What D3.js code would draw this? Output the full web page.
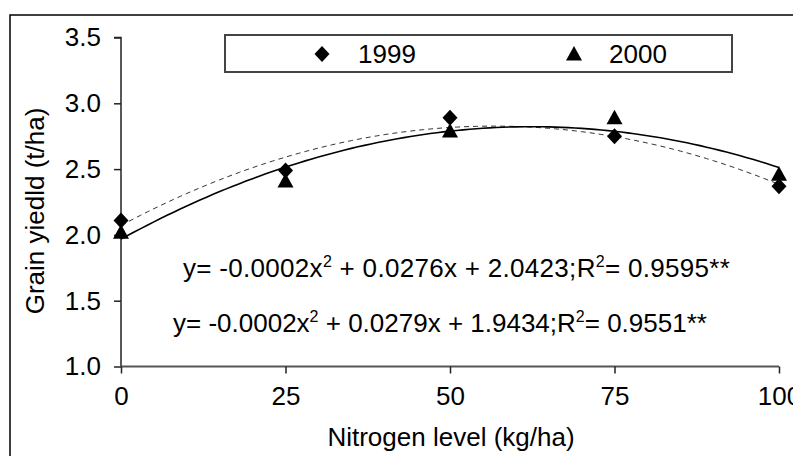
<!DOCTYPE html>
<html><head><meta charset="utf-8">
<script src="https://cdn.jsdelivr.net/npm/d3@7"></script>
<style>body{margin:0;background:#fff}svg{display:block}text{font-family:"Liberation Sans",Arial,sans-serif;fill:#000}</style>
</head><body>
<script>
const nitrogen = [0, 25, 50, 75, 100];
const yield1999 = [2.11, 2.49, 2.89, 2.75, 2.37];
const yield2000 = [2.02, 2.41, 2.79, 2.89, 2.46];
const seriesNames = ["1999", "2000"];
const yTicks = [1.0, 1.5, 2.0, 2.5, 3.0, 3.5];
const xTicks = [0, 25, 50, 75, 100];
const equations = [
  {pre:"y= -0.0002x", a:" + 0.0276x + 2.0423;R", b:"= 0.9595**"},
  {pre:"y= -0.0002x", a:" + 0.0279x + 1.9434;R", b:"= 0.9551**"}
];

const W = 793, H = 456, FS = 26;
const svg = d3.select("body").append("svg").attr("width", W).attr("height", H);
svg.append("rect").attr("x",10).attr("y",15).attr("width",800).attr("height",460)
  .attr("fill","none").attr("stroke","#000").attr("stroke-width",1.5);

const x = d3.scaleLinear().domain([0,100]).range([121,779]);
const y = d3.scaleLinear().domain([1,3.5]).range([366.5,37.5]);

// quadratic least-squares fit
function quadFit(xs, ys){
  let S=[0,0,0,0,0], T=[0,0,0];
  xs.forEach((xv,i)=>{ for(let k=0;k<5;k++) S[k]+=Math.pow(xv,k); for(let k=0;k<3;k++) T[k]+=Math.pow(xv,k)*ys[i]; });
  const A=[[S[0],S[1],S[2],T[0]],[S[1],S[2],S[3],T[1]],[S[2],S[3],S[4],T[2]]];
  for(let i=0;i<3;i++){ for(let j=i+1;j<3;j++){ const f=A[j][i]/A[i][i]; for(let k=i;k<4;k++) A[j][k]-=f*A[i][k]; } }
  const c=[0,0,0];
  for(let i=2;i>=0;i--){ let s=A[i][3]; for(let k=i+1;k<3;k++) s-=A[i][k]*c[k]; c[i]=s/A[i][i]; }
  return xv => c[0]+c[1]*xv+c[2]*xv*xv;
}
const xs = d3.range(0,100.01,1);
const f1999 = quadFit(nitrogen, yield1999), f2000 = quadFit(nitrogen, yield2000);
const line = d3.line().x(d=>x(d[0])).y(d=>y(d[1]));

// axes
const yAxis = svg.append("g").attr("transform",`translate(${x(0)},0)`)
  .call(d3.axisLeft(y).tickValues(yTicks).tickFormat(d3.format(".1f")).tickSize(7).tickPadding(13));
const xAxis = svg.append("g").attr("transform",`translate(0,${y(1)})`)
  .call(d3.axisBottom(x).tickValues(xTicks).tickSize(7).tickPadding(13));
[yAxis,xAxis].forEach(g=>{
  g.select(".domain").attr("stroke","#222").attr("stroke-width",1.5);
  g.selectAll(".tick line").attr("stroke","#222").attr("stroke-width",1.5);
  g.selectAll("text").attr("font-size",FS).attr("font-family","Liberation Sans, Arial, sans-serif");
});
yAxis.select(".domain").attr("d",`M-7,${y(3.5)}H0V${y(1)}`);
xAxis.select(".domain").attr("stroke","#555").attr("stroke-width",2).attr("d",`M0,0H${x(100)-x(0)}`).attr("transform",`translate(${x(0)},0)`);

// trend lines
svg.append("path").datum(xs.map(v=>[v,f1999(v)])).attr("d",line)
  .attr("fill","none").attr("stroke","#333").attr("stroke-width",1).attr("stroke-dasharray","5,4");
svg.append("path").datum(xs.map(v=>[v,f2000(v)])).attr("d",line)
  .attr("fill","none").attr("stroke","#000").attr("stroke-width",1.6);

const diamond = "M0,-8L7.5,0L0,8L-7.5,0Z";
const tri = "M0,-8L8,6.5L-8,6.5Z";
svg.append("g").selectAll("path").data(nitrogen).join("path")
  .attr("d",tri).attr("transform",(d,i)=>`translate(${x(d)},${y(yield2000[i])})`).attr("fill","#000");
svg.append("g").selectAll("path").data(nitrogen).join("path")
  .attr("d",diamond).attr("transform",(d,i)=>`translate(${x(d)},${y(yield1999[i])})`).attr("fill","#000");

// legend
const lg = svg.append("g");
lg.append("rect").attr("x",225).attr("y",35).attr("width",507).attr("height",37)
  .attr("fill","#fff").attr("stroke","#444").attr("stroke-width",2);
lg.append("path").attr("d",diamond).attr("transform","translate(322,54)").attr("fill","#000");
lg.append("text").attr("x",358).attr("y",63).attr("font-size",FS).text(seriesNames[0]);
lg.append("path").attr("d",tri).attr("transform","translate(574,54)").attr("fill","#000");
lg.append("text").attr("x",609).attr("y",63).attr("font-size",FS).text(seriesNames[1]);

// equations
function eq(e, xx, yy, ls){
  const t = svg.append("text").attr("x",xx).attr("y",yy).attr("font-size",FS).attr("letter-spacing",ls);
  t.append("tspan").text(e.pre);
  t.append("tspan").attr("dy",-10).attr("font-size",16).text("2");
  t.append("tspan").attr("dy",10).text(e.a);
  t.append("tspan").attr("dy",-10).attr("font-size",16).text("2");
  t.append("tspan").attr("dy",10).text(e.b);
}
eq(equations[0], 183, 277, 0.3);
eq(equations[1], 173, 332, 0);

// axis titles
svg.append("text").attr("transform","translate(44,211) rotate(-90)").attr("text-anchor","middle")
  .attr("font-size",FS).text("Grain yiedld (t/ha)");
svg.append("text").attr("x",451).attr("y",446).attr("text-anchor","middle")
  .attr("font-size",FS).text("Nitrogen level (kg/ha)");
</script>
</body></html>
